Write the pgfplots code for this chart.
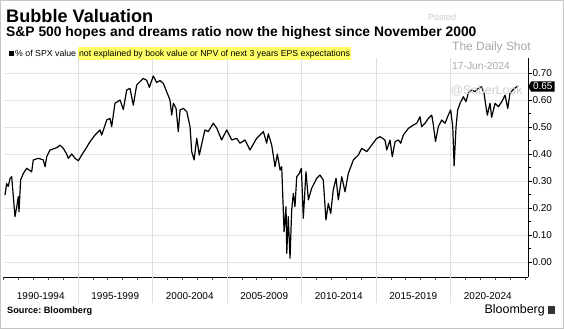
\documentclass[border=0pt]{standalone}
\usepackage{pgfplots}
\pgfplotsset{compat=1.18}
\usepackage{pgfplotstable}
\usetikzlibrary{shapes.symbols}
\usepackage{fontspec}
\setmainfont{Liberation Sans}
\definecolor{hl}{HTML}{FFFF66}
\definecolor{wm}{HTML}{A8A8A8}
\pgfplotstableread{
year val
1990.10 0.248
1990.21 0.29
1990.32 0.28
1990.44 0.31
1990.55 0.316
1990.77 0.168
1990.89 0.205
1990.99 0.242
1991.04 0.186
1991.15 0.304
1991.33 0.328
1991.56 0.347
1991.89 0.334
1992.00 0.378
1992.34 0.384
1992.67 0.378
1992.79 0.353
1992.90 0.39
1993.12 0.415
1993.46 0.421
1993.68 0.427
1993.79 0.433
1994.01 0.421
1994.24 0.40
1994.35 0.384
1994.58 0.40
1994.80 0.384
1995.02 0.375
1995.25 0.396
1995.58 0.425
1995.81 0.446
1996.14 0.47
1996.48 0.489
1996.59 0.47
1996.93 0.526
1997.15 0.532
1997.26 0.501
1997.48 0.588
1997.82 0.60
1998.04 0.565
1998.27 0.637
1998.49 0.643
1998.71 0.581
1998.94 0.656
1999.38 0.68
1999.61 0.673
1999.79 0.647
2000.05 0.689
2000.28 0.665
2000.50 0.672
2000.72 0.662
2000.95 0.631
2001.17 0.60
2001.29 0.544
2001.40 0.588
2001.58 0.569
2001.73 0.483
2001.85 0.563
2002.07 0.569
2002.30 0.557
2002.52 0.501
2002.63 0.409
2002.79 0.378
2002.97 0.458
2003.14 0.396
2003.41 0.464
2003.52 0.489
2003.74 0.483
2004.08 0.514
2004.31 0.496
2004.64 0.452
2004.98 0.489
2005.32 0.452
2005.65 0.458
2005.87 0.44
2006.21 0.452
2006.54 0.415
2006.99 0.458
2007.44 0.483
2007.66 0.44
2007.77 0.475
2008.00 0.433
2008.22 0.353
2008.38 0.40
2008.56 0.341
2008.67 0.353
2008.83 0.112
2008.96 0.205
2009.01 0.032
2009.11 0.168
2009.23 0.014
2009.34 0.193
2009.45 0.254
2009.56 0.205
2009.68 0.316
2009.85 0.328
2009.99 0.347
2010.12 0.162
2010.30 0.334
2010.46 0.23
2010.68 0.273
2011.02 0.31
2011.24 0.322
2011.46 0.304
2011.64 0.156
2011.80 0.217
2011.96 0.18
2012.13 0.267
2012.32 0.31
2012.47 0.23
2012.70 0.316
2012.92 0.26
2013.14 0.328
2013.48 0.378
2013.81 0.396
2014.04 0.421
2014.38 0.409
2014.71 0.433
2015.05 0.458
2015.27 0.464
2015.60 0.452
2015.72 0.415
2015.94 0.452
2016.09 0.39
2016.28 0.446
2016.50 0.452
2016.66 0.44
2016.83 0.47
2017.17 0.495
2017.50 0.507
2017.73 0.514
2017.95 0.538
2018.06 0.501
2018.29 0.514
2018.51 0.532
2018.74 0.544
2018.85 0.507
2018.99 0.446
2019.18 0.501
2019.41 0.526
2019.63 0.514
2019.85 0.544
2020.01 0.563
2020.15 0.501
2020.24 0.356
2020.37 0.501
2020.48 0.563
2020.64 0.588
2020.86 0.612
2021.04 0.594
2021.19 0.625
2021.42 0.637
2021.64 0.631
2021.87 0.643
2022.09 0.649
2022.25 0.625
2022.38 0.575
2022.47 0.544
2022.65 0.588
2022.76 0.536
2022.99 0.588
2023.21 0.575
2023.44 0.594
2023.66 0.618
2023.84 0.569
2023.99 0.625
2024.21 0.639
2024.44 0.649
2024.55 0.65
}\spx
\begin{document}
\begin{tikzpicture}[x=1bp,y=1bp]
\useasboundingbox (0,0) rectangle (564,329);
\draw[draw=gray!45, fill=white, line width=1bp] (0.5,0.5) rectangle (563.5,328.5);
% header
\node[anchor=base west, inner sep=0, font=\bfseries\fontsize{18.2}{19}\selectfont] at (6,307) {Bubble Valuation};
\node[anchor=base west, inner sep=0, font=\bfseries\fontsize{13.9}{15}\selectfont] at (6,292.5) {S\&P 500 hopes and dreams ratio now the highest since November 2000};
\node[anchor=base west, inner sep=0, text=wm!60, font=\fontsize{9}{10}\selectfont] at (428,309) {Posted};
\node[anchor=base west, inner sep=0, text=wm, font=\fontsize{12}{13}\selectfont] at (452,279) {The Daily Shot};
\node[anchor=base west, inner sep=0, text=wm, font=\fontsize{10.3}{11}\selectfont] at (452,260) {17-Jun-2024};
\fill[black] (9,273) rectangle (14,278.5);
\node[anchor=base west, inner sep=0, font=\fontsize{8.8}{10}\selectfont] (lg) at (15,273) {\% of SPX value};
\node[anchor=base west, inner xsep=1.5bp, inner ysep=2.5bp, fill=hl, font=\fontsize{8.8}{10}\selectfont] at ([xshift=1bp]lg.base east) {not explained by book value or NPV of next 3 years EPS expectations};
% footer
\node[anchor=west, inner sep=0, font=\bfseries\fontsize{9.2}{10}\selectfont] at (7,17.5) {Source:\ Bloomberg};
\node[anchor=east, inner sep=0, font=\fontsize{12.5}{13}\selectfont] at (545,19) {Bloomberg};
\fill[black!80] (548,15.5) rectangle (555,23);
\begin{axis}[
  at={(3.5bp,52bp)}, anchor=south west,
  scale only axis, width=524.5bp, height=219bp,
  xmin=1990, xmax=2025.2, ymin=-0.0556, ymax=0.7556,
  clip=false,
  axis x line*=bottom, axis y line*=right,
  axis line style={-, black, line width=0.9bp},
  xtick={1992.5,1997.5,2002.5,2007.5,2012.5,2017.5,2022.5},
  xticklabels={1990-1994,1995-1999,2000-2004,2005-2009,2010-2014,2015-2019,2020-2024},
  minor xtick={1990,...,2025},
  x tick style={draw=none},
  minor x tick style={draw=black!70, line width=0.6bp},
  xticklabel style={font=\fontsize{10}{11}\selectfont, yshift=-9bp},
  ytick={0,0.1,0.2,0.3,0.4,0.5,0.6,0.7},
  minor ytick={0.05,0.15,0.25,0.35,0.45,0.55,0.65},
  yticklabel pos=right,
  yticklabel style={font=\fontsize{10}{11}\selectfont, xshift=-2.5bp, /pgf/number format/.cd, fixed, fixed zerofill, precision=2, assume math mode=true},
  y tick style={black, line width=0.6bp},
  tick align=outside,
  major tick length=3.5bp, minor tick length=3bp,
  ymajorgrids,
  major grid style={gray!22, line width=0.7bp},
]
\foreach \yr in {1995,2000,2005,2010,2015,2020}{
  \edef\tmp{\noexpand\draw[gray!25, line width=0.8bp] ([yshift=-26bp]axis cs:\yr,-0.0556) -- (axis cs:\yr,0.7556);}\tmp
}
\addplot[black, line width=1.2bp, line join=round] table[x=year, y=val] {\spx};
\node[anchor=west, inner sep=0, text=wm!55, font=\fontsize{12.3}{13}\selectfont] at (axis cs:2020.0,0.635) {@SoberLook};
\node[signal, signal to=west, signal pointer angle=120, fill=black, text=white, inner xsep=2bp, inner ysep=1.5bp, anchor=west, font=\fontsize{10}{11}\selectfont] at (axis cs:2025.2,0.65) {0.65};
\end{axis}
\end{tikzpicture}
\end{document}
